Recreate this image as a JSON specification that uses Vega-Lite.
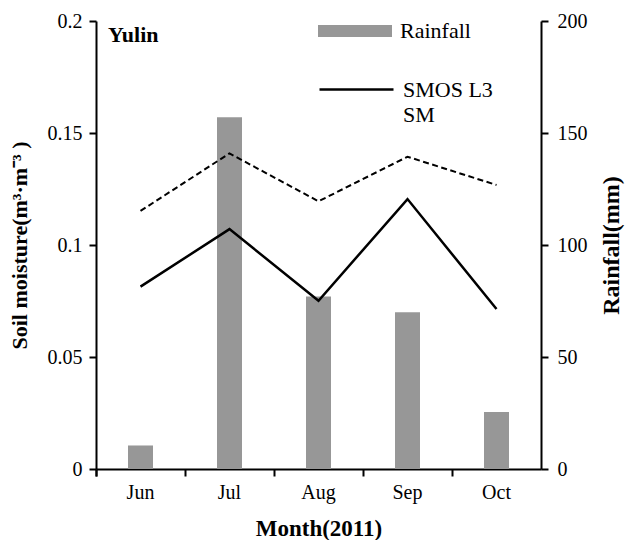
{
  "$schema": "https://vega.github.io/schema/vega-lite/v6.json",
  "width": 445,
  "height": 448,
  "autosize": {"type": "none"},
  "padding": {"left": 96, "top": 21, "right": 86, "bottom": 71},
  "background": "white",
  "config": {
    "font": "Liberation Serif",
    "view": {"stroke": null},
    "axis": {
      "domainColor": "black",
      "domainWidth": 2,
      "tickColor": "black",
      "tickWidth": 2,
      "tickSize": 7,
      "labelFont": "Liberation Serif",
      "labelFontSize": 20,
      "labelColor": "black",
      "titleFont": "Liberation Serif",
      "titleFontSize": 22,
      "titleFontWeight": "bold",
      "titleColor": "black",
      "grid": false
    },
    "legend": {
      "labelFont": "Liberation Serif",
      "labelFontSize": 22,
      "labelColor": "black",
      "padding": 0
    }
  },
  "title": {
    "text": "Yulin",
    "anchor": "start",
    "frame": "group",
    "orient": "top",
    "offset": -53,
    "dx": 12,
    "font": "Liberation Serif",
    "fontSize": 22,
    "fontWeight": "bold",
    "color": "black"
  },
  "data": {
    "values": [
      {"month": "Jun", "rainfall": 10.5, "smos": 0.0814, "other": 0.1152},
      {"month": "Jul", "rainfall": 157, "smos": 0.1071, "other": 0.1409},
      {"month": "Aug", "rainfall": 77, "smos": 0.0751, "other": 0.1195},
      {"month": "Sep", "rainfall": 70, "smos": 0.1205, "other": 0.1394},
      {"month": "Oct", "rainfall": 25.5, "smos": 0.0714, "other": 0.1268}
    ]
  },
  "encoding": {
    "x": {
      "field": "month",
      "type": "nominal",
      "sort": ["Jun", "Jul", "Aug", "Sep", "Oct"],
      "scale": {"paddingInner": 0, "paddingOuter": 0},
      "axis": {
        "title": "Month(2011)",
        "titleFontSize": 23,
        "labelAngle": 0,
        "bandPosition": 0,
        "tickExtra": true,
        "labelPadding": 6,
        "titlePadding": 15
      }
    }
  },
  "layer": [
    {
      "mark": {"type": "bar", "size": 25},
      "encoding": {
        "y": {
          "field": "rainfall",
          "type": "quantitative",
          "scale": {"domain": [0, 200]},
          "axis": {
            "orient": "right",
            "title": "Rainfall(mm)",
            "titleFontSize": 24,
            "values": [0, 50, 100, 150, 200],
            "labelPadding": 9,
            "titlePadding": 36,
            "titleAngle": -90
          }
        },
        "fill": {
          "datum": "Rainfall",
          "type": "nominal",
          "scale": {"range": ["#979797"]},
          "legend": {
            "orient": "none",
            "legendX": 222,
            "legendY": -27,
            "title": null,
            "symbolType": "M-1,-0.16H1V0.16H-1Z",
            "symbolSize": 5476,
            "symbolStrokeWidth": 0,
            "labelOffset": 8
          }
        }
      }
    },
    {
      "layer": [
        {
          "mark": {"type": "line", "color": "black", "strokeWidth": 2, "strokeDash": [6, 3.5]},
          "encoding": {
            "y": {
              "field": "other",
              "type": "quantitative",
              "scale": {"domain": [0, 0.2]},
              "axis": {
                "orient": "left",
                "title": "Soil moisture(m³·m⁻³ )",
                "values": [0, 0.05, 0.1, 0.15, 0.2],
                "format": "~g",
                "labelPadding": 7,
                "titlePadding": 16
              }
            }
          }
        },
        {
          "mark": {"type": "line", "strokeWidth": 2.5},
          "encoding": {
            "y": {"field": "smos", "type": "quantitative"},
            "stroke": {
              "datum": "SMOS L3 SM",
              "type": "nominal",
              "scale": {"range": ["black"]},
              "legend": {
                "orient": "none",
                "legendX": 222,
                "legendY": 30,
                "title": null,
                "symbolType": "stroke",
                "symbolSize": 5476,
                "symbolStrokeWidth": 2.5,
                "symbolStrokeColor": "black",
                "labelOffset": 8,
                "labelExpr": "['SMOS L3', 'SM']",
                "encode": {"labels": {"update": {"lineHeight": {"value": 25}}}}
              }
            }
          }
        }
      ]
    }
  ],
  "resolve": {"scale": {"y": "independent"}}
}
